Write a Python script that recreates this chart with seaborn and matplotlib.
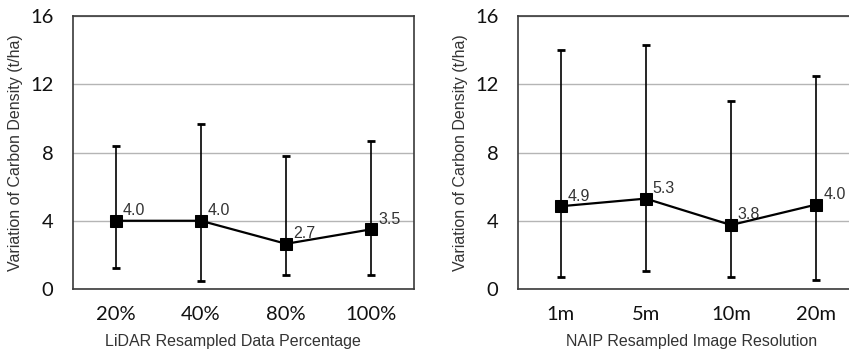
import numpy as np
import pandas as pd
import seaborn as sns
from matplotlib import pyplot as plt

# LiDAR panel
lidar_cats = ['20%', '40%', '80%', '100%']
lidar_mean = [4.0, 4.0, 2.65, 3.5]
lidar_low = [1.25, 0.45, 0.85, 0.85]
lidar_high = [8.4, 9.7, 7.8, 8.7]
lidar_labels = ['4.0', '4.0', '2.7', '3.5']

# NAIP panel
naip_cats = ['1m', '5m', '10m', '20m']
naip_mean = [4.85, 5.3, 3.75, 4.95]
naip_low = [0.7, 1.05, 0.7, 0.5]
naip_high = [14.0, 14.3, 11.0, 12.5]
naip_labels = ['4.9', '5.3', '3.8', '4.0']

y_ticks = [0, 4, 8, 12, 16]
y_label = 'Variation of Carbon Density (t/ha)'

sns.set_style('white')
plt.rcParams['font.family'] = ['Liberation Sans', 'DejaVu Sans']

SPINE = '#3a3a3a'
TEXT = '#333333'


def draw_panel(ax, cats, mean, low, high, labels, xlabel, xlabel_x):
    df = pd.DataFrame({'pos': np.arange(len(cats)), 'mean': mean, 'low': low, 'high': high})
    err = [df['mean'] - df['low'], df['high'] - df['mean']]

    ax.errorbar(df['pos'], df['mean'], yerr=err, fmt='none', ecolor='black',
                elinewidth=1.2, capsize=3, capthick=2, zorder=3)
    sns.lineplot(data=df, x='pos', y='mean', ax=ax, color='black', marker='s',
                 markersize=8.5, markeredgecolor='black', linewidth=1.6, zorder=4)
    for x, y, t in zip(df['pos'], df['mean'], labels):
        ax.annotate(t, (x, y), xytext=(5, 4), textcoords='offset points',
                    fontsize=11.5, color=TEXT, ha='left', va='baseline')

    ax.set_xlim(-0.5, len(cats) - 0.5)
    ax.set_ylim(y_ticks[0], y_ticks[-1])
    ax.set_yticks(y_ticks)
    ax.set_xticks(df['pos'])
    ax.set_xticklabels(cats)
    ax.set_xticks(np.arange(-0.5, len(cats)), minor=True)

    ax.yaxis.grid(True, color='#b5b5b5', linewidth=1)
    ax.xaxis.grid(False)
    ax.set_axisbelow(True)

    ax.tick_params(axis='x', which='major', length=0, pad=12)
    ax.tick_params(axis='x', which='minor', length=5, width=1.2, direction='out', color=SPINE)
    ax.tick_params(axis='y', length=5, width=1.2, direction='out', color=SPINE, pad=9)
    for lab in ax.get_xticklabels() + ax.get_yticklabels():
        lab.set_fontfamily(['Lato', 'DejaVu Sans'])
        lab.set_fontsize(14.5)
        lab.set_color('#111111')

    for sp in ax.spines.values():
        sp.set_visible(True)
        sp.set_color(SPINE)
        sp.set_linewidth(1.2)

    ax.set_xlabel(xlabel, fontsize=11.5, color=TEXT)
    ax.xaxis.set_label_coords(xlabel_x, -0.165)
    ax.set_ylabel(y_label, fontsize=11.5, color=TEXT, labelpad=5)


fig = plt.figure(figsize=(8.49, 3.54), dpi=100)
ax1 = fig.add_axes([0.086, 0.1836, 0.4016, 0.771])
ax2 = fig.add_axes([0.610, 0.1836, 0.4016, 0.771])

draw_panel(ax1, lidar_cats, lidar_mean, lidar_low, lidar_high, lidar_labels,
           'LiDAR Resampled Data Percentage', 0.47)
draw_panel(ax2, naip_cats, naip_mean, naip_low, naip_high, naip_labels,
           'NAIP Resampled Image Resolution', 0.51)

fig.savefig('out.png', dpi=100)
